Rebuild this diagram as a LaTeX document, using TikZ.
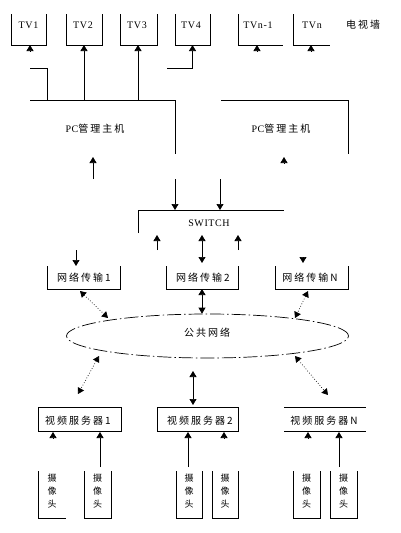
\documentclass[tikz,border=0pt]{standalone}
\usepackage{fontspec}
\setmainfont[LetterSpace=6]{Liberation Serif}
\newfontfamily\cjk[LetterSpace=20]{Noto Sans CJK SC}
\usetikzlibrary{arrows.meta,calc,shapes.geometric}
\begin{document}
\begin{tikzpicture}[x=1pt,y=-1pt,line width=0.7pt,
  arr/.style={-{Triangle[length=6pt,width=7pt]}},
  darr/.style={{Triangle[length=6pt,width=7pt]}-{Triangle[length=6pt,width=7pt]}},
  dotarr/.style={darr,dotted,line width=0.7pt},
  frame/.style={inner sep=0pt,outer sep=0pt},
  lbl/.style={font=\fontsize{10}{11}\selectfont,inner sep=0pt},
  clbl/.style={font=\cjk\fontsize{10}{11}\selectfont,inner sep=0pt},
  camlbl/.style={font=\cjk\fontsize{9}{13}\selectfont,inner sep=0pt,align=center}]
\useasboundingbox (0,0) rectangle (400,533);
\fill[white] (0,0) rectangle (400,533);

% ---------- TV wall ----------
\node[frame,minimum width=35pt,minimum height=31pt] (tv1) at (28.5,29.5) {};
\node[frame,minimum width=36pt,minimum height=31pt] (tv2) at (84,29.5) {};
\node[frame,minimum width=37pt,minimum height=31pt] (tv3) at (138.5,29.5) {};
\node[frame,minimum width=35pt,minimum height=31pt] (tv4) at (192.5,29.5) {};
\node[frame,minimum width=45pt,minimum height=31pt] (tvn1) at (260.5,29.5) {};
\node[frame,minimum width=37pt,minimum height=31pt] (tvn) at (311.5,29.5) {};
\foreach \t in {tv1,tv2,tv3,tv4}
  \draw (\t.north west) -- (\t.south west) -- (\t.south east) -- (\t.north east);
\foreach \t in {tvn1,tvn}
  \draw (\t.north west) -- (\t.south west) -- (\t.south east);
\node[lbl] (tv1t) at (28.5,25) {TV1};
\node[lbl] (tv2t) at (83,25) {TV2};
\node[lbl] (tv3t) at (137,25) {TV3};
\node[lbl] (tv4t) at (191,25) {TV4};
\node[lbl] (tvn1t) at (258,25) {TVn-1};
\node[lbl] (tvnt) at (312,25) {TVn};
\node[clbl] (wall) at (363,25) {电视墙};

% ---------- PC hosts ----------
\node[frame,minimum width=145pt,minimum height=54pt] (pc1) at (102.5,127) {};
\node[frame,minimum width=127pt,minimum height=54pt] (pc2) at (284.5,127) {};
\draw (pc1.north west) -- (pc1.north east) -- (pc1.south east);
\draw (pc2.north west) -- (pc2.north east) -- (pc2.south east);
\node[lbl] (pc1t) at (95,129) {PC{\cjk 管理主机}};
\node[lbl] (pc2t) at (281,129) {PC{\cjk 管理主机}};

% TV connections
\coordinate (c1) at (30,68);
\coordinate (c1e) at (47.5,68);
\draw[arr] ([yshift=-6pt]tv1.south -| c1) -- (tv1.south -| c1);
\draw (c1) -- (c1e) -- (c1e |- pc1.north);
\draw[arr] (tv2.south |- pc1.north) -- (tv2.south);
\draw[arr] ([xshift=-0.5pt]tv3.south |- pc1.north) -- ([xshift=-0.5pt]tv3.south);
\coordinate (c4) at (167,68);
\draw[arr] (c4) -- (c4 -| tv4.south) -- (tv4.south);
\coordinate (cn1) at (257,51);
\coordinate (cn) at (311,51);
\draw[arr] (cn1) -- (cn1 |- tvn1.south);
\draw[arr] (cn) -- (cn |- tvn.south);

% ---------- SWITCH ----------
\node[frame,minimum width=146pt,minimum height=23pt] (sw) at (211,221.5) {};
\draw (sw.south west) -- (sw.north west) -- (sw.north east);
\node[lbl] (swt) at (209,223) {SWITCH};

\coordinate (p1a) at (93,179);
\draw[arr,shorten >=3pt] (p1a) -- (p1a |- pc1.south);
\coordinate (p2a) at (284,163);
\draw[arr] (p2a) -- (284,157);
\draw[arr] ([yshift=-25pt]pc1.south east) -- (pc1.south east |- sw.north);
\coordinate (p2b) at (220,179);
\draw[arr] (p2b) -- (p2b |- sw.north);

% ---------- network transfer ----------
\node[frame,minimum width=73pt,minimum height=23pt] (net1) at (83.5,277.5) {};
\node[frame,minimum width=72pt,minimum height=23pt] (net2) at (202,277.5) {};
\node[frame,minimum width=73pt,minimum height=23pt] (netN) at (311.5,277.5) {};
\foreach \t in {net1,net2,netN}
  \draw (\t.north west) -- (\t.south west) -- (\t.south east) -- (\t.north east);
\node[clbl] (net1t) at (84,278) {网络传输1};
\node[clbl] (net2t) at (203,278) {网络传输2};
\node[clbl] (netNt) at (310,278) {网络传输N};

\coordinate (s1) at (157,250);
\coordinate (s3) at (238,250);
\draw[arr,shorten >=2pt] (s1) -- (s1 |- sw.south);
\draw[arr,shorten >=2pt] (s3) -- (s3 |- sw.south);
\draw[darr,shorten <=2pt,shorten >=3pt] (net2.north |- sw.south) -- (net2.north);
\coordinate (n1a) at (76,250);
\draw[arr] (n1a) -- (n1a |- net1.north);
\coordinate (nNa) at (303,257);
\draw[arr] (nNa) -- (303,263);

% ---------- public network ----------
\node[draw,ellipse,minimum width=282pt,minimum height=44pt,inner sep=0pt,
      dash pattern=on 14pt off 3pt on 1.5pt off 3pt] (pub) at (207.5,336) {};
\node[clbl] (pubt) at (207,333) {公共网络};
\draw[darr] (net2.south) -- (net2.south |- pub.north);

\coordinate (e1) at (108,318);
\coordinate (e2) at (295,318);
\coordinate (e3) at (99,356);
\coordinate (e4) at (295,356);
\draw[dotarr] ($(net1.south)+(-3.5,2)$) -- (e1);
\draw[dotarr] ($(netN.south)+(-3.5,2)$) -- (e2);

% ---------- video servers ----------
\node[frame,minimum width=83pt,minimum height=24pt] (srv1) at (79.5,419) {};
\node[frame,minimum width=81pt,minimum height=24pt] (srv2) at (197.5,419) {};
\node[frame,minimum width=82pt,minimum height=24pt] (srvN) at (325,419) {};
\draw (srv1.north west) rectangle (srv1.south east);
\draw (srv2.north west) rectangle (srv2.south east);
\draw (srvN.north west) -- (srvN.north east);
\draw (srvN.south west) -- (srvN.south east);
\node[clbl] (srv1t) at (78,421) {视频服务器1};
\node[clbl] (srv2t) at (200,421) {视频服务器2};
\node[clbl] (srvNt) at (324,421) {视频服务器N};

\draw[dotarr] (e3) -- ($(srv1.north)+(-1.5,-13)$);
\draw[dotarr] (e4) -- ($(srvN.north)+(3,-12)$);
\coordinate (m1) at (193,371);
\draw[darr,shorten >=2pt] (m1) -- (m1 |- srv2.north);

% ---------- cameras ----------
\node[frame,minimum width=28pt,minimum height=47pt] (cam1) at (52,494.5) {};
\node[frame,minimum width=27pt,minimum height=47pt] (cam2) at (97.5,494.5) {};
\node[frame,minimum width=26pt,minimum height=47pt] (cam3) at (189,494.5) {};
\node[frame,minimum width=26pt,minimum height=47pt] (cam4) at (225,494.5) {};
\node[frame,minimum width=27pt,minimum height=47pt] (cam5) at (306.5,494.5) {};
\node[frame,minimum width=27pt,minimum height=47pt] (cam6) at (343.5,494.5) {};
\draw (cam1.north west) -- (cam1.south west) -- (cam1.south east);
\foreach \t in {cam2,cam3,cam4,cam5,cam6}
  \draw (\t.north west) -- (\t.south west) -- (\t.south east) -- (\t.north east);
\foreach \t in {cam1,cam2,cam3,cam4,cam5,cam6}
  \node[camlbl] (\t t) at ([yshift=3.5pt]\t.center) {摄\\像\\头};

\coordinate (k1) at (53,438);
\coordinate (k2) at (100,467);
\coordinate (k3) at (188,467);
\coordinate (k4) at (224,438);
\coordinate (k5) at (308,438);
\coordinate (k6) at (339,467);
\draw[arr,shorten >=1pt] (k1) -- (k1 |- srv1.south);
\draw[arr,shorten >=1pt] (k2) -- (k2 |- srv1.south);
\draw[arr,shorten >=1pt] (k3) -- (k3 |- srv2.south);
\draw[arr,shorten >=1pt] (k4) -- (k4 |- srv2.south);
\draw[arr,shorten >=1pt] (k5) -- (k5 |- srvN.south);
\draw[arr,shorten >=1pt] (k6) -- (k6 |- srvN.south);
\end{tikzpicture}
\end{document}
